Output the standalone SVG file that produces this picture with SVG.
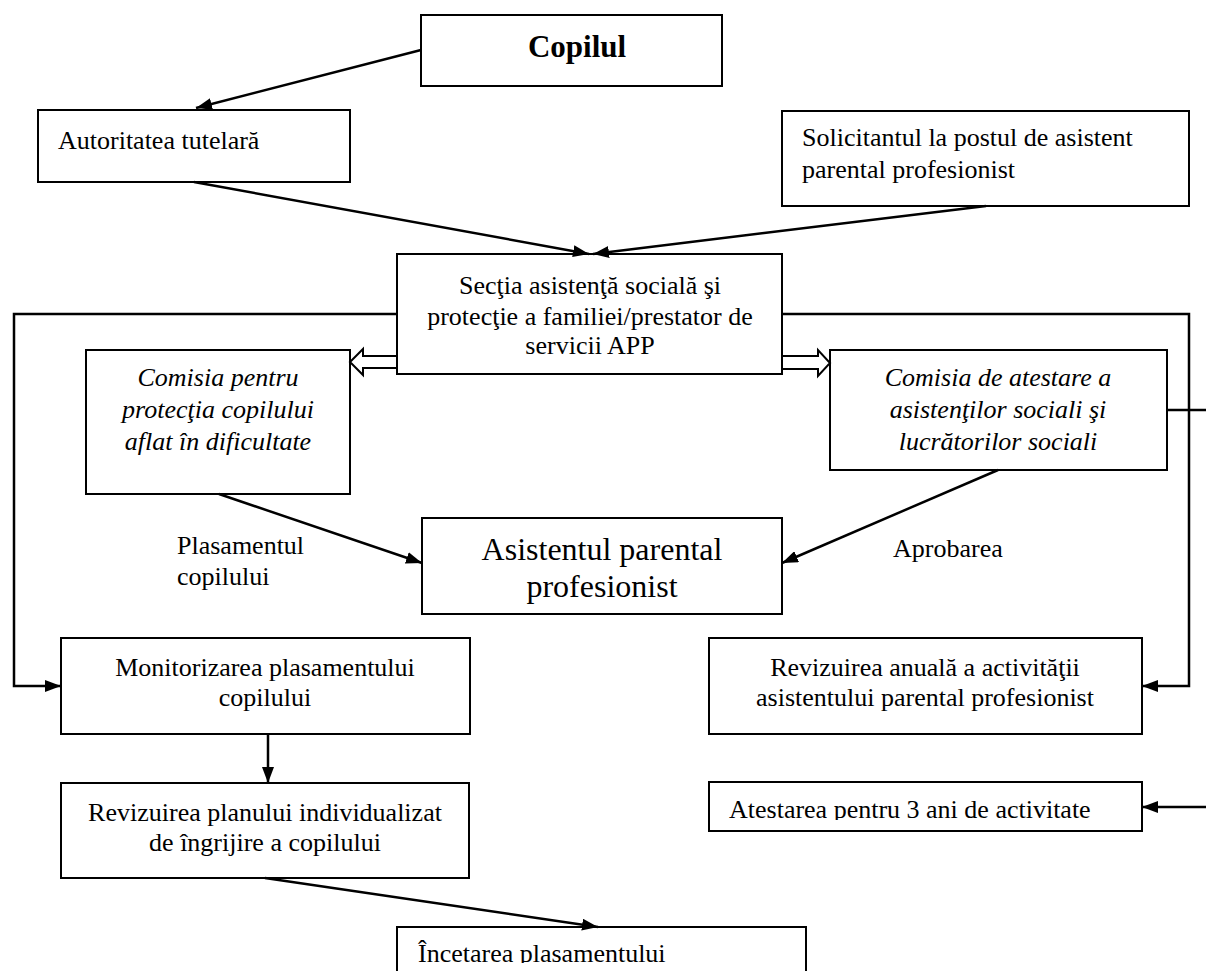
<svg xmlns="http://www.w3.org/2000/svg" width="1206" height="971" viewBox="0 0 1206 971">
<style>
.box{fill:#fff;stroke:#000;stroke-width:2}
.t{font-family:"Liberation Serif","Times New Roman",serif;font-size:26px;fill:#000}
.c{text-anchor:middle}
.i{font-style:italic}
.ln{fill:none;stroke:#000;stroke-width:2.5}
.arr{marker-end:url(#ah)}
.hol{fill:#fff;stroke:#000;stroke-width:2}
</style>
<defs>
<marker id="ah" viewBox="0 0 16 12" refX="16" refY="6" markerWidth="16" markerHeight="12" markerUnits="userSpaceOnUse" orient="auto">
<path d="M0,0 L16,6 L0,12 z" fill="#000"/>
</marker>
<clipPath id="clipAt"><rect x="709" y="782" width="433" height="38"/></clipPath>
<clipPath id="clipInc"><rect x="397" y="927" width="409" height="36"/></clipPath>
</defs>

<g id="copilul">
<rect class="box" x="421" y="15" width="301" height="71"/>
<text class="t c" x="577" y="57" style="font-weight:bold;font-size:31px">Copilul</text>
</g>

<g id="autoritatea">
<rect class="box" x="38" y="110" width="312" height="72"/>
<text class="t" x="58" y="149">Autoritatea tutelară</text>
</g>

<g id="solicitantul">
<rect class="box" x="782" y="111" width="407" height="95"/>
<text class="t" x="802" y="146">Solicitantul la postul de asistent</text>
<text class="t" x="802" y="178">parental profesionist</text>
</g>

<g id="sectia">
<rect class="box" x="397" y="254" width="385" height="120"/>
<text class="t c" x="590" y="294">Secţia asistenţă socială şi</text>
<text class="t c" x="590" y="325">protecţie a familiei/prestator de</text>
<text class="t c" x="590" y="354">servicii APP</text>
</g>

<g id="comisia-pentru">
<rect class="box" x="86" y="350" width="264" height="144"/>
<text class="t c i" x="218" y="386">Comisia pentru</text>
<text class="t c i" x="218" y="418">protecţia copilului</text>
<text class="t c i" x="218" y="450">aflat în dificultate</text>
</g>

<g id="comisia-atestare">
<rect class="box" x="830" y="350" width="337" height="120"/>
<text class="t c i" x="998" y="386">Comisia de atestare a</text>
<text class="t c i" x="998" y="418">asistenţilor sociali şi</text>
<text class="t c i" x="998" y="450">lucrătorilor sociali</text>
</g>

<g id="asistentul">
<rect class="box" x="422" y="518" width="360" height="96"/>
<text class="t c" x="602" y="560" style="font-size:32px">Asistentul parental</text>
<text class="t c" x="602" y="597" style="font-size:32px">profesionist</text>
</g>

<g id="label-plasament">
<text class="t" x="177" y="554">Plasamentul</text>
<text class="t" x="177" y="585">copilului</text>
</g>

<g id="label-aprobarea">
<text class="t" x="893" y="557">Aprobarea</text>
</g>

<g id="monitorizarea">
<rect class="box" x="61" y="638" width="409" height="96"/>
<text class="t c" x="265" y="676">Monitorizarea plasamentului</text>
<text class="t c" x="265" y="706">copilului</text>
</g>

<g id="revizuirea-anuala">
<rect class="box" x="709" y="638" width="433" height="96"/>
<text class="t c" x="925" y="676">Revizuirea anuală a activităţii</text>
<text class="t c" x="925" y="706">asistentului parental profesionist</text>
</g>

<g id="revizuirea-planului">
<rect class="box" x="61" y="783" width="408" height="95"/>
<text class="t c" x="265" y="821">Revizuirea planului individualizat</text>
<text class="t c" x="265" y="851">de îngrijire a copilului</text>
</g>

<g id="atestarea">
<rect class="box" x="709" y="782" width="433" height="49"/>
<text class="t" x="729" y="818" clip-path="url(#clipAt)">Atestarea pentru 3 ani de activitate</text>
</g>

<g id="incetarea">
<rect class="box" x="397" y="927" width="409" height="70"/>
<text class="t" x="418" y="962" clip-path="url(#clipInc)">Încetarea plasamentului</text>
</g>

<g id="connectors">
<line class="ln arr" x1="421" y1="50" x2="196" y2="108"/>
<line class="ln arr" x1="194" y1="182" x2="589" y2="254"/>
<line class="ln arr" x1="986" y1="206" x2="593" y2="254"/>
<polyline class="ln arr" points="397,314 14,314 14,686 61,686"/>
<polyline class="ln arr" points="782,314 1189,314 1189,686 1142,686"/>
<line class="ln" x1="1167" y1="410" x2="1206" y2="410"/>
<line class="ln arr" x1="1206" y1="807" x2="1142" y2="807"/>
<polygon class="hol" points="397,356 363,356 363,349 350,362 363,375 363,368 397,368"/>
<polygon class="hol" points="782,356 818,356 818,350 830,363 818,376 818,369 782,369"/>
<line class="ln arr" x1="219" y1="494" x2="422" y2="563"/>
<line class="ln arr" x1="998" y1="470" x2="782" y2="563"/>
<line class="ln arr" x1="268" y1="734" x2="268" y2="783"/>
<line class="ln arr" x1="265" y1="878" x2="598" y2="927"/>
</g>
</svg>
